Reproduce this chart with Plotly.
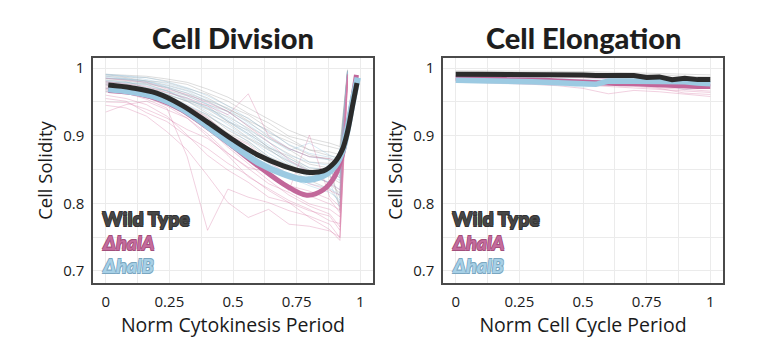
import plotly.graph_objects as go

# ---------------- data ----------------
# Cell Division panel: individual cells (thin lines)
X_DIV = [0, 0.08, 0.16, 0.24, 0.32, 0.40, 0.48, 0.56, 0.64, 0.72, 0.80, 0.88, 0.92, 0.95]
WT_DIV = [
    [.985, .984, .981, .975, .967, .956, .939, .926, .904, .891, .879, .876, .872, .996],
    [.978, .980, .971, .967, .952, .944, .921, .908, .882, .870, .852, .851, .846, .993],
    [.990, .987, .986, .981, .976, .963, .951, .933, .919, .899, .891, .884, .880, .997],
    [.970, .968, .961, .956, .944, .931, .908, .892, .869, .856, .843, .839, .830, .990],
    [.982, .981, .977, .971, .960, .951, .936, .921, .898, .879, .861, .859, .850, .994],
    [.975, .972, .969, .961, .951, .933, .919, .897, .881, .858, .843, .829, .815, .992],
    [.988, .986, .981, .979, .970, .961, .944, .931, .911, .896, .879, .871, .866, .996],
    [.965, .963, .957, .951, .939, .926, .904, .889, .866, .851, .834, .821, .800, .988],
    [.980, .978, .976, .967, .959, .946, .936, .914, .896, .881, .869, .866, .860, .995],
    [.972, .971, .965, .961, .951, .939, .921, .903, .883, .867, .849, .846, .838, .992],
    [.984, .983, .979, .972, .963, .952, .941, .922, .908, .886, .872, .864, .789, .990],
    [.976, .975, .970, .964, .955, .940, .928, .911, .890, .873, .858, .852, .845, .993],
    [.991, .990, .988, .984, .979, .969, .957, .941, .925, .908, .896, .889, .884, .998],
    [.968, .966, .960, .953, .943, .929, .912, .895, .878, .862, .848, .842, .808, .989],
]
HALA_DIV = [
    [.960, .955, .946, .929, .901, .871, .849, .831, .809, .801, .789, .781, .760, .985],
    [.975, .972, .966, .954, .941, .919, .896, .869, .846, .824, .811, .799, .790, .990],
    [.945, .941, .929, .906, .879, .841, .801, .779, .791, .769, .766, .759, .750, .980],
    [.980, .977, .973, .964, .956, .944, .931, .962, .899, .881, .869, .866, .858, .991],
    [.965, .963, .954, .941, .869, .760, .821, .809, .801, .789, .781, .769, .749, .985],
    [.970, .967, .961, .949, .936, .914, .891, .864, .841, .819, .901, .809, .795, .990],
    [.955, .951, .934, .921, .899, .881, .859, .841, .819, .801, .779, .761, .745, .981],
    [.985, .982, .979, .969, .961, .949, .936, .914, .891, .864, .846, .829, .820, .992],
    [.950, .949, .939, .926, .909, .896, .874, .851, .829, .816, .799, .791, .780, .986],
    [.935, .946, .951, .939, .926, .899, .871, .839, .821, .804, .791, .774, .770, .981],
    [.968, .962, .957, .944, .926, .903, .874, .853, .846, .826, .818, .806, .786, .988],
    [.978, .974, .968, .958, .944, .927, .901, .887, .861, .842, .829, .819, .812, .990],
    [.972, .970, .963, .951, .929, .911, .883, .858, .834, .812, .796, .784, .765, .987],
]
HALB_DIV = [
    [.988, .985, .981, .972, .963, .947, .931, .909, .891, .871, .861, .856, .850, .993],
    [.982, .979, .976, .966, .954, .941, .921, .901, .879, .861, .846, .841, .834, .991],
    [.975, .974, .967, .959, .946, .931, .911, .891, .869, .852, .839, .831, .820, .989],
    [.990, .988, .983, .977, .969, .954, .939, .919, .901, .881, .869, .864, .858, .995],
    [.970, .967, .962, .951, .939, .921, .899, .879, .859, .843, .829, .822, .812, .988],
    [.985, .983, .978, .971, .959, .946, .926, .906, .886, .866, .853, .848, .841, .993],
    [.978, .977, .971, .962, .951, .936, .916, .896, .874, .856, .841, .831, .795, .990],
    [.986, .984, .980, .974, .966, .951, .935, .916, .896, .878, .889, .871, .866, .994],
    [.966, .964, .958, .949, .935, .917, .896, .874, .855, .838, .826, .816, .805, .987],
    [.980, .979, .974, .966, .956, .942, .923, .903, .883, .863, .849, .845, .838, .992],
    [.991, .989, .986, .980, .971, .959, .944, .925, .906, .887, .874, .868, .861, .996],
]

# Cell Division panel: group means (thick lines)
X_DIV_WT_MEAN = [0.01, 0.1, 0.2, 0.3, 0.4, 0.5, 0.6, 0.7, 0.79, 0.855, 0.9, 0.93, 0.95, 0.97, 0.987]
WT_DIV_MEAN = [.975, .971, .963, .945, .920, .894, .871, .855, .846, .848, .861, .880, .906, .945, .978]
X_DIV_HALA_MEAN = [0.01, 0.1, 0.2, 0.3, 0.4, 0.5, 0.6, 0.7, 0.79, 0.855, 0.9, 0.93, 0.95, 0.97, 0.985]
HALA_DIV_MEAN = [.967, .964, .955, .938, .912, .884, .855, .828, .812, .820, .840, .872, .912, .954, .990]
X_DIV_HALB_MEAN = [0.01, 0.1, 0.2, 0.3, 0.4, 0.5, 0.6, 0.7, 0.78, 0.85, 0.9, 0.93, 0.95, 0.97, 0.99]
HALB_DIV_MEAN = [.969, .965, .957, .940, .914, .886, .860, .843, .835, .840, .855, .878, .910, .950, .986]

# Cell Elongation panel: individual cells (thin lines)
X_ELO = [0, 0.1, 0.2, 0.3, 0.4, 0.5, 0.6, 0.7, 0.8, 0.9, 1.0]
WT_ELO = [
    [.994, .995, .994, .993, .994, .993, .992, .992, .990, .988, .987],
    [.990, .991, .990, .990, .989, .990, .989, .988, .985, .982, .983],
    [.996, .996, .995, .996, .995, .995, .994, .993, .992, .991, .990],
    [.988, .989, .988, .987, .988, .987, .986, .985, .983, .979, .980],
    [.992, .993, .993, .992, .992, .991, .991, .990, .987, .986, .984],
    [.993, .992, .991, .991, .990, .990, .990, .989, .986, .984, .986],
]
HALA_ELO = [
    [.987, .986, .986, .985, .984, .983, .982, .980, .978, .976, .975],
    [.982, .981, .980, .979, .977, .975, .973, .971, .969, .966, .964],
    [.989, .989, .988, .988, .987, .986, .985, .983, .981, .979, .978],
    [.980, .979, .978, .976, .974, .970, .962, .967, .965, .962, .958],
    [.985, .984, .983, .982, .981, .979, .977, .975, .971, .968, .966],
    [.983, .982, .982, .980, .979, .977, .976, .973, .970, .963, .961],
]
HALB_ELO = [
    [.984, .984, .983, .983, .982, .980, .982, .982, .981, .979, .978],
    [.979, .978, .978, .977, .975, .972, .976, .977, .976, .974, .972],
    [.987, .987, .986, .986, .985, .983, .985, .985, .984, .982, .981],
    [.981, .980, .980, .979, .978, .975, .979, .979, .977, .968, .974],
    [.985, .985, .984, .984, .983, .981, .983, .983, .982, .980, .979],
]

# Cell Elongation panel: group means (thick lines)
X_ELO_MEAN = [0, .05, .1, .15, .2, .25, .3, .35, .4, .45, .5, .55, .6, .65, .7, .75, .8, .85, .9, .95, 1.0]
WT_ELO_MEAN = [.991, .991, .991, .991, .991, .990, .990, .990, .990, .990, .990, .989, .989, .989, .989, .986, .987, .983, .985, .983, .983]
HALA_ELO_MEAN = [.985, .985, .984, .984, .983, .983, .982, .982, .981, .980, .979, .978, .977, .977, .977, .976, .975, .975, .974, .973, .973]
HALB_ELO_MEAN = [.982, .982, .982, .981, .981, .981, .980, .979, .978, .977, .975, .976, .981, .981, .981, .981, .981, .981, .980, .978, .977]

GROUP_LABELS = ["Wild Type", "\u0394halA", "\u0394halB"]
PANEL_TITLES = ["Cell Division", "Cell Elongation"]
X_TITLES = ["Norm Cytokinesis Period", "Norm Cell Cycle Period"]
Y_TITLE = "Cell Solidity"
X_TICKS = [0, 0.25, 0.5, 0.75, 1]
X_TICKTEXT = ["0", "0.25", "0.5", "0.75", "1"]
Y_TICKS = [0.7, 0.8, 0.9, 1.0]
Y_TICKTEXT = ["0.7", "0.8", "0.9", "1"]

# ---------------- styles ----------------
THIN = {"wt": "rgba(150,150,150,0.32)", "a": "rgba(214,120,165,0.34)", "b": "rgba(140,190,220,0.34)"}
THICK = {"wt": "#2b2b2b", "a": "#c2679a", "b": "#9ccae2"}
TXT = {"wt": ("#474747", "#333333"), "a": ("#c46b9c", "#a24f7b"), "b": ("#a7d0e6", "#7aa6c0")}

fig = go.Figure()

def add_thin(xs, rows, color, xa, ya):
    for r in rows:
        fig.add_trace(go.Scatter(x=xs, y=r, mode="lines", line=dict(color=color, width=1),
                                 xaxis=xa, yaxis=ya, showlegend=False, hoverinfo="skip"))

def add_thick(xs, ys, color, width, xa, ya, shape):
    fig.add_trace(go.Scatter(x=xs, y=ys, mode="lines",
                             line=dict(color=color, width=width, shape=shape, smoothing=1.0),
                             xaxis=xa, yaxis=ya, showlegend=False))

# left panel
add_thin(X_DIV, WT_DIV, THIN["wt"], "x", "y")
add_thin(X_DIV, HALB_DIV, THIN["b"], "x", "y")
add_thin(X_DIV, HALA_DIV, THIN["a"], "x", "y")
add_thick(X_DIV_HALA_MEAN, HALA_DIV_MEAN, THICK["a"], 5, "x", "y", "spline")
add_thick(X_DIV_HALB_MEAN, HALB_DIV_MEAN, THICK["b"], 6.5, "x", "y", "spline")
add_thick(X_DIV_WT_MEAN, WT_DIV_MEAN, THICK["wt"], 5, "x", "y", "spline")

# right panel
add_thin(X_ELO, WT_ELO, THIN["wt"], "x2", "y2")
add_thin(X_ELO, HALB_ELO, THIN["b"], "x2", "y2")
add_thin(X_ELO, HALA_ELO, THIN["a"], "x2", "y2")
add_thick(X_ELO_MEAN, HALA_ELO_MEAN, THICK["a"], 5, "x2", "y2", "linear")
add_thick(X_ELO_MEAN, HALB_ELO_MEAN, THICK["b"], 5.5, "x2", "y2", "linear")
add_thick(X_ELO_MEAN, WT_ELO_MEAN, THICK["wt"], 5, "x2", "y2", "linear")

W, H = 782, 350
DOMS_X = [[93 / W, 373 / W], [443 / W, 723 / W]]
DOM_Y = [1 - 283 / H, 1 - 58 / H]
GRID = "#ebebeb"
LINE = "#4a4a4a"
BASE_FONT = "Open Sans"

def xaxis_cfg(i):
    return dict(domain=DOMS_X[i], range=[-0.05, 1.05], tickvals=X_TICKS, ticktext=X_TICKTEXT,
                showgrid=True, gridcolor=GRID, gridwidth=1, zeroline=False,
                minor=dict(tickvals=[0.125, 0.375, 0.625, 0.875], showgrid=True, gridcolor=GRID, gridwidth=1),
                showline=True, linecolor=LINE, linewidth=1.5, mirror=True,
                ticks="outside", ticklen=4, tickcolor="rgba(0,0,0,0)",
                tickfont=dict(family=BASE_FONT, size=15, color="#1a1a1a"),
                title=dict(text=X_TITLES[i], font=dict(family=BASE_FONT, size=19.5, color="#1a1a1a"), standoff=3),
                anchor="y" if i == 0 else "y2")

def yaxis_cfg(i):
    return dict(domain=DOM_Y, range=[0.682, 1.015], tickvals=Y_TICKS, ticktext=Y_TICKTEXT,
                showgrid=True, gridcolor=GRID, gridwidth=1, zeroline=False,
                minor=dict(tickvals=[0.75, 0.85, 0.95], showgrid=True, gridcolor=GRID, gridwidth=1),
                showline=True, linecolor=LINE, linewidth=1.5, mirror=True,
                ticks="outside", ticklen=4, tickcolor="rgba(0,0,0,0)",
                tickfont=dict(family=BASE_FONT, size=15, color="#1a1a1a"),
                title=dict(text=Y_TITLE, font=dict(family=BASE_FONT, size=18.5, color="#1a1a1a"), standoff=6),
                anchor="x" if i == 0 else "x2")

annotations = []
for i, t in enumerate(PANEL_TITLES):
    cx = (DOMS_X[i][0] + DOMS_X[i][1]) / 2
    annotations.append(dict(text=t, x=cx, y=1 - 38 / H, xref="paper", yref="paper",
                            xanchor="center", yanchor="middle", showarrow=False,
                            font=dict(family="Lato", size=29, weight=900, color="#1e1e1e")))

def outline(c):
    d = "0.6px"
    return f"{d} {d} 0 {c}, -{d} -{d} 0 {c}, {d} -{d} 0 {c}, -{d} {d} 0 {c}"

keys = ["wt", "a", "b"]
for i in range(2):
    x0 = (101 if i == 0 else 451) / W
    for j, lab in enumerate(GROUP_LABELS):
        fill, edge = TXT[keys[j]]
        annotations.append(dict(text=lab, x=x0, y=1 - (219 + 23 * j) / H, xref="paper", yref="paper",
                                xanchor="left", yanchor="middle", showarrow=False, borderpad=0,
                                font=dict(family="Lato", size=19.5, weight=900, color=fill,
                                          style="normal" if j == 0 else "italic",
                                          shadow=outline(edge))))

fig.update_layout(
    width=W, height=H, margin=dict(l=0, r=0, t=0, b=0),
    paper_bgcolor="white", plot_bgcolor="white",
    xaxis=xaxis_cfg(0), yaxis=yaxis_cfg(0), xaxis2=xaxis_cfg(1), yaxis2=yaxis_cfg(1),
    annotations=annotations, showlegend=False,
)

fig.write_html("out.html")
